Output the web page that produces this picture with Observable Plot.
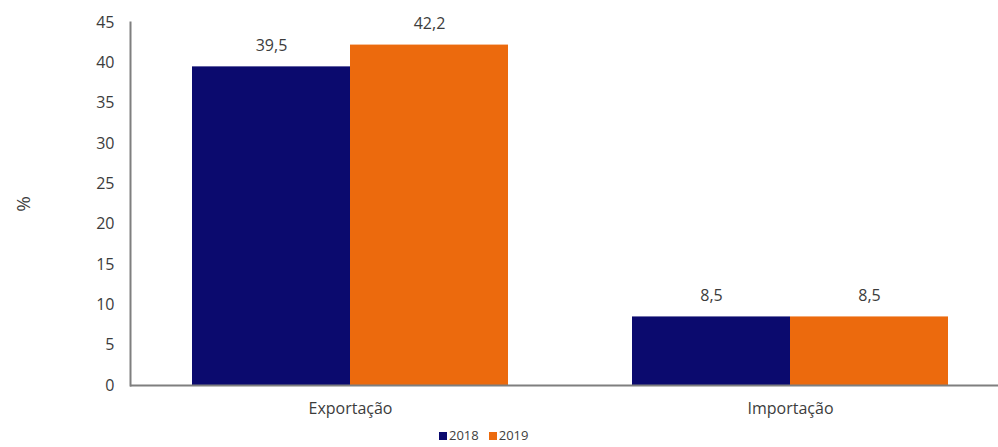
<!DOCTYPE html>
<html>
<head>
<meta charset="utf-8">
<script src="https://cdn.jsdelivr.net/npm/d3@7"></script>
<script src="https://cdn.jsdelivr.net/npm/@observablehq/plot@0.6"></script>
<style>
  body { margin: 0; background: #fff; font-family: "Open Sans", sans-serif; }
  #legend { display: flex; gap: 10px; padding-left: 439px; height: 25px; align-items: center; font-size: 13px; color: #404040; }
  .sw { display: inline-block; width: 8px; height: 8px; margin-right: 2px; }
</style>
</head>
<body>
<div id="chart"></div>
<div id="legend"></div>
<script>
const categories = ["Exportação", "Importação"];
const years = ["2018", "2019"];
const values2018 = [39.5, 8.5];
const values2019 = [42.2, 8.5];
const yTicks = [0, 5, 10, 15, 20, 25, 30, 35, 40, 45];
const colors = ["#0b0a6e", "#ec6a0d"];

const data = categories.flatMap((c, i) => [
  { category: c, year: years[0], value: values2018[i] },
  { category: c, year: years[1], value: values2019[i] }
]);

const fmt = v => v.toFixed(1).replace(".", ",");

const chart = Plot.plot({
  width: 998,
  height: 422,
  marginTop: 22,
  marginBottom: 37,
  marginLeft: 130,
  marginRight: 0,
  style: { fontFamily: "Open Sans", fontSize: "16px", color: "#3c3c3c", background: "#fff" },
  fx: { domain: categories, range: [130, 1010], paddingInner: 0, paddingOuter: 0 },
  x: { domain: years, axis: null, paddingInner: 0, paddingOuter: 0.384 },
  y: { domain: [0, 45] },
  color: { domain: years, range: colors },
  marks: [
    Plot.barY(data, { fx: "category", x: "year", y: "value", fill: "year" }),
    Plot.text(data, { fx: "category", x: "year", y: "value", text: d => fmt(d.value), dy: -21, fill: "#3c3c3c", fontSize: 16 }),
    Plot.ruleY([0], { stroke: "#7f7f7f", strokeWidth: 2 }),
    Plot.frame({ anchor: "left", facetAnchor: "left", stroke: "#7f7f7f", strokeWidth: 2 }),
    Plot.axisY({ ticks: yTicks, tickSize: 0, tickPadding: 16, label: null, fontSize: 16 }),
    Plot.axisY({ ticks: [], label: "%", labelAnchor: "center", labelArrow: "none", labelOffset: 114, fontSize: 19 }),
    Plot.axisFx({ anchor: "bottom", tickSize: 0, tickPadding: 17, label: null, fontSize: 16 })
  ]
});
document.getElementById("chart").appendChild(chart);

const legend = document.getElementById("legend");
years.forEach((y, i) => {
  const item = document.createElement("span");
  item.innerHTML = `<span class="sw" style="background:${colors[i]}"></span>${y}`;
  legend.appendChild(item);
});
</script>
</body>
</html>
